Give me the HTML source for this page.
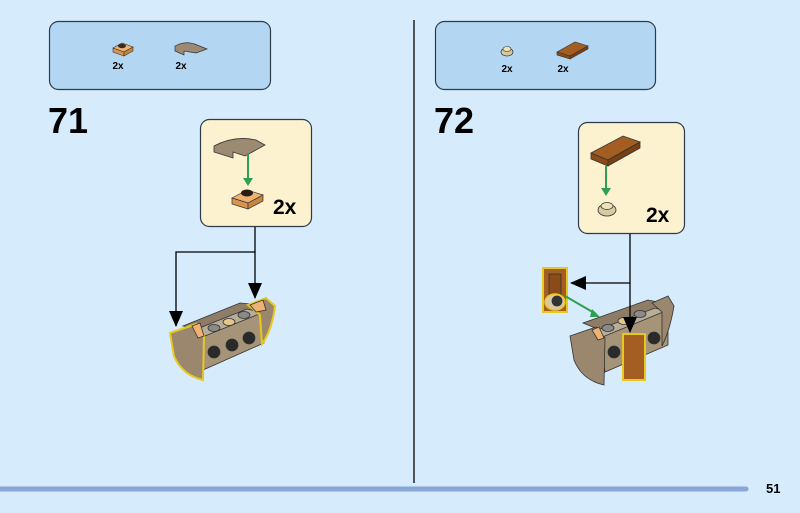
<!DOCTYPE html>
<html><head><meta charset="utf-8"><style>
html,body{margin:0;padding:0;width:800px;height:513px;overflow:hidden;background:#d6ebfb;font-family:"Liberation Sans",sans-serif}
svg{position:absolute;left:0;top:0}
</style></head><body>
<svg width="800" height="513" viewBox="0 0 800 513">
<defs>
<marker id="ah" markerWidth="16" markerHeight="14" refX="15" refY="7" orient="auto" markerUnits="userSpaceOnUse"><path d="M0,0 L16,7 L0,14 z" fill="#000"/></marker>
</defs>
<rect x="49.5" y="21.5" width="221" height="68" rx="9" fill="#b3d6f2" stroke="#2e3b4a" stroke-width="1.2"/>
<rect x="435.5" y="21.5" width="220" height="68" rx="9" fill="#b3d6f2" stroke="#2e3b4a" stroke-width="1.2"/>
<polygon points="113,48 122,43 133,47 124,52" fill="#f0b271" stroke="#333" stroke-width="0.6"/>
<polygon points="113,48 124,52 124,56 113,52" fill="#d9954f" stroke="#333" stroke-width="0.6"/>
<polygon points="124,52 133,47 133,51 124,56" fill="#c88540" stroke="#333" stroke-width="0.6"/>
<ellipse cx="122" cy="46" rx="4" ry="2.2" fill="#3a2a1c"/>
<path d="M175,46 Q186,40 197,45 L207,49 L196,53 L184,51 L184,55 L175,51 Z" fill="#9c8a72" stroke="#333" stroke-width="0.7"/>
<text x="118" y="69" font-size="10" font-weight="bold" text-anchor="middle">2x</text>
<text x="181" y="69" font-size="10" font-weight="bold" text-anchor="middle">2x</text>
<ellipse cx="507" cy="52" rx="6" ry="4" fill="#d8c9a0" stroke="#333" stroke-width="0.7"/>
<ellipse cx="507" cy="49" rx="4" ry="2.5" fill="#efe2b8" stroke="#333" stroke-width="0.6"/>
<polygon points="557,52 575,42 588,46 570,56" fill="#a55e22" stroke="#333" stroke-width="0.6"/>
<polygon points="557,52 570,56 570,59 557,55" fill="#8a4b18" stroke="#333" stroke-width="0.6"/>
<polygon points="570,56 588,46 588,49 570,59" fill="#7a3f12" stroke="#333" stroke-width="0.6"/>
<text x="507" y="72" font-size="10" font-weight="bold" text-anchor="middle">2x</text>
<text x="563" y="72" font-size="10" font-weight="bold" text-anchor="middle">2x</text>
<text x="48" y="133" font-size="36" font-weight="bold">71</text>
<text x="434" y="133" font-size="36" font-weight="bold">72</text>
<line x1="414" y1="20" x2="414" y2="483" stroke="#222" stroke-width="1.5"/>
<line x1="0" y1="489" x2="746" y2="489" stroke="#8ba7d9" stroke-width="5" stroke-linecap="round"/>
<text x="766" y="493" font-size="13" font-weight="bold">51</text>
<!-- callout left -->
<rect x="200.5" y="119.5" width="111" height="107" rx="9" fill="#fdf2cf" stroke="#2e3b4a" stroke-width="1.2"/>
<path d="M214,146 Q235,135 256,140 L265,145 L245,156 L233,152 L233,158 L214,152 Z" fill="#9c8a72" stroke="#333" stroke-width="0.8"/>
<line x1="248" y1="153" x2="248" y2="182" stroke="#2fa050" stroke-width="2"/>
<path d="M243,178 L248,186 L253,178 z" fill="#2fa050"/>
<polygon points="232,198 247,190 263,195 248,203" fill="#f0b271" stroke="#333" stroke-width="0.7"/>
<polygon points="232,198 248,203 248,209 232,204" fill="#d9954f" stroke="#333" stroke-width="0.7"/>
<polygon points="248,203 263,195 263,201 248,209" fill="#c88540" stroke="#333" stroke-width="0.7"/>
<ellipse cx="247" cy="193" rx="6" ry="3.5" fill="#2a1e14"/>
<text x="273" y="214" font-size="21" font-weight="bold">2x</text>
<polyline points="255,227 255,252 176,252 176,326" fill="none" stroke="#000" stroke-width="1.3" marker-end="url(#ah)"/>
<line x1="255" y1="252" x2="255" y2="298" stroke="#000" stroke-width="1.3" marker-end="url(#ah)"/>
<!-- assembly left -->
<g stroke="#333" stroke-width="0.8">
<polygon points="183,326 240,303 262,305 205,330" fill="#8e7c66"/>
<polygon points="192,331 247,309 265,313 207,337" fill="#b8ae98"/>
<polygon points="200,338 264,312 264,343 203,370" fill="#a69479"/>
<ellipse cx="214" cy="328" rx="6" ry="3.5" fill="#8a8a8a"/>
<ellipse cx="229" cy="322" rx="6" ry="3.5" fill="#e2c68a"/>
<ellipse cx="244" cy="315" rx="6" ry="3.5" fill="#8a8a8a"/>
<circle cx="214" cy="352" r="6" fill="#2a2a2a"/>
<circle cx="232" cy="345" r="6" fill="#2a2a2a"/>
<circle cx="249" cy="338" r="6" fill="#2a2a2a"/>
<path d="M170,333 L196,324 L204,336 L203,380 Q182,375 174,356 Z" fill="#9a876d" stroke="#e8c820" stroke-width="2"/>
<polygon points="192,326 200,323 204,336 198,338" fill="#f0b271"/>
<path d="M248,305 L266,298 L275,306 Q272,330 262,344 L260,315 Z" fill="#9a876d" stroke="#e8c820" stroke-width="2"/>
<polygon points="250,305 263,300 266,310 256,312" fill="#f0b271"/>
</g>
<!-- callout right -->
<rect x="578.5" y="122.5" width="106" height="111" rx="9" fill="#fdf2cf" stroke="#2e3b4a" stroke-width="1.2"/>
<polygon points="591,153 623,136 640,142 608,160" fill="#a55e22" stroke="#333" stroke-width="0.8"/>
<polygon points="591,153 608,160 608,166 591,159" fill="#8a4b18" stroke="#333" stroke-width="0.8"/>
<polygon points="608,160 640,142 640,148 608,166" fill="#7a3f12" stroke="#333" stroke-width="0.8"/>
<line x1="606" y1="166" x2="606" y2="192" stroke="#2fa050" stroke-width="2"/>
<path d="M601,188 L606,196 L611,188 z" fill="#2fa050"/>
<ellipse cx="607" cy="210" rx="9" ry="6" fill="#d8c9a0" stroke="#333" stroke-width="0.8"/>
<ellipse cx="607" cy="206" rx="6" ry="3.5" fill="#efe2b8" stroke="#333" stroke-width="0.7"/>
<text x="646" y="222" font-size="21" font-weight="bold">2x</text>
<!-- assembly right -->
<g stroke="#333" stroke-width="0.8">
<polygon points="583,323 648,300 668,304 605,332" fill="#8e7c66"/>
<polygon points="592,332 655,308 670,312 606,338" fill="#b8ae98"/>
<polygon points="600,338 668,310 668,345 605,372" fill="#a69479"/>
<ellipse cx="608" cy="328" rx="6" ry="3.5" fill="#8a8a8a"/>
<ellipse cx="624" cy="321" rx="6" ry="3.5" fill="#e2c68a"/>
<ellipse cx="640" cy="314" rx="6" ry="3.5" fill="#8a8a8a"/>
<circle cx="614" cy="352" r="6" fill="#2a2a2a"/>
<circle cx="654" cy="338" r="6" fill="#2a2a2a"/>
<path d="M570,336 L596,327 L605,338 L604,385 Q582,380 574,360 Z" fill="#9a876d"/>
<polygon points="592,330 599,327 604,338 598,340" fill="#f0b271"/>
<path d="M652,303 L668,296 L674,306 Q670,330 662,346 L662,312 Z" fill="#9a876d"/>
<rect x="623" y="334" width="22" height="46" fill="#a55e22" stroke="#e8c820" stroke-width="2"/>
<rect x="543" y="268" width="24" height="44" fill="#a55e22" stroke="#e8c820" stroke-width="2"/>
<rect x="549" y="274" width="12" height="34" fill="#8a4b18"/>
<ellipse cx="555" cy="302" rx="10" ry="8" fill="#d8c9a0" stroke="#e8c820" stroke-width="1.5"/>
<ellipse cx="557" cy="301" rx="5" ry="5" fill="#333"/>
</g>
<line x1="630" y1="234" x2="630" y2="332" stroke="#000" stroke-width="1.3" marker-end="url(#ah)"/>
<line x1="630" y1="283" x2="571" y2="283" stroke="#000" stroke-width="1.3" marker-end="url(#ah)"/>
<line x1="565" y1="296" x2="596" y2="314" stroke="#2fa050" stroke-width="2"/>
<path d="M592,309 L600,317 L590,317 z" fill="#2fa050"/>
</svg>
</body></html>
